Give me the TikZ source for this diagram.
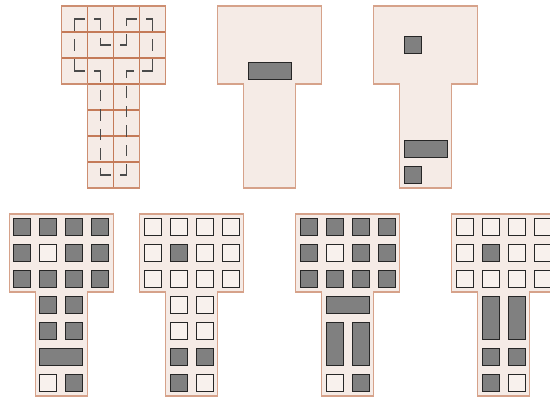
\documentclass[tikz,border=0pt]{standalone}
\usepackage{tikz}
\definecolor{teefill}{RGB}{245,235,230}
\definecolor{teeline}{RGB}{196,122,88}
\definecolor{blockgray}{RGB}{128,128,128}
\definecolor{routegray}{RGB}{75,75,75}
\tikzset{
  tee/.style={fill=teefill,draw=teeline!70!white,line width=1.2pt},
  gridln/.style={draw=teeline,line width=1.1pt},
  full/.style={fill=blockgray,draw=black!85,line width=1pt},
  empty/.style={fill=teefill!70!white,draw=black!85,line width=1pt},
  route/.style={draw=routegray,line width=1.2pt,line cap=rect,dash pattern=on 10pt off 9.5pt},
  routelong/.style={route,dash pattern=on 11pt off 9.5pt}
}
% T outline, one unit per cell, rows counted downwards
\newcommand{\teeshape}{\draw[tee] (0,0) -- (4,0) -- (4,3) -- (3,3) -- (3,7) -- (1,7) -- (1,3) -- (0,3) -- cycle;}
% square block in cell (col,row)
\newcommand{\cellsq}[3]{\draw[#1] (#2+0.17,#3+0.17) rectangle (#2+0.83,#3+0.83);}
% three upper rows: #1 for all cells, #2 for cell (1,1)
\newcommand{\toprows}[2]{%
  \foreach \r in {0,1,2} \foreach \c in {0,2,3} {\cellsq{#1}{\c}{\r}}
  \foreach \r in {0,2} {\cellsq{#1}{1}{\r}}
  \cellsq{#2}{1}{1}}
\begin{document}
\begin{tikzpicture}[x=26pt,y=-26pt]
\useasboundingbox (0,0) rectangle (21.154,15.346);

% grid with route
\begin{scope}[shift={(2.38,0.23)}]
\teeshape
\draw[gridln] (0,1) -- (4,1) (0,2) -- (4,2) (1,3) -- (3,3)
  (1,4) -- (3,4) (1,5) -- (3,5) (1,6) -- (3,6)
  (1,0) -- (1,3) (2,0) -- (2,7) (3,0) -- (3,3);
\draw[gridln,draw=teeline!85!white] (0,0) -- (4,0) -- (4,3) -- (3,3) -- (3,7) -- (1,7) -- (1,3) -- (0,3) -- cycle;
\draw[route] (0.5,0.5) -- (1.5,0.5);
\draw[route] (1.5,0.5) -- (1.5,1.5);
\draw[route] (1.5,1.5) -- (2.5,1.5);
\draw[route] (2.5,1.5) -- (2.5,0.5);
\draw[route] (2.5,0.5) -- (3.5,0.5);
\draw[routelong] (3.5,0.5) -- (3.5,2.5);
\draw[route] (3.5,2.5) -- (2.5,2.5);
\draw[route] (2.5,6.5) -- (2.5,2.5);
\draw[route] (1.5,6.5) -- (2.5,6.5);
\draw[route] (1.5,2.5) -- (1.5,6.5);
\draw[route] (0.5,2.5) -- (1.5,2.5);
\draw[routelong] (0.5,0.5) -- (0.5,2.5);
\end{scope}

\begin{scope}[shift={(8.38,0.23)}]
\teeshape
\draw[full] (1.17,2.17) rectangle (2.83,2.83);
\end{scope}

\begin{scope}[shift={(14.38,0.23)}]
\teeshape
\cellsq{full}{1}{1}
\draw[full] (1.17,5.17) rectangle (2.83,5.83);
\cellsq{full}{1}{6}
\end{scope}

% lower row
\begin{scope}[shift={(0.35,8.23)}]
\teeshape
\toprows{full}{empty}
\foreach \r in {3,4} {\cellsq{full}{1}{\r} \cellsq{full}{2}{\r}}
\draw[full] (1.17,5.17) rectangle (2.83,5.83);
\cellsq{empty}{1}{6} \cellsq{full}{2}{6}
\end{scope}

\begin{scope}[shift={(5.37,8.23)}]
\teeshape
\toprows{empty}{full}
\foreach \r in {3,4} {\cellsq{empty}{1}{\r} \cellsq{empty}{2}{\r}}
\cellsq{full}{1}{5} \cellsq{full}{2}{5}
\cellsq{full}{1}{6} \cellsq{empty}{2}{6}
\end{scope}

\begin{scope}[shift={(11.38,8.23)}]
\teeshape
\toprows{full}{empty}
\draw[full] (1.17,3.17) rectangle (2.83,3.83);
\foreach \c in {1,2} {\draw[full] (\c+0.17,4.17) rectangle (\c+0.83,5.83);}
\cellsq{empty}{1}{6} \cellsq{full}{2}{6}
\end{scope}

\begin{scope}[shift={(17.38,8.23)}]
\teeshape
\toprows{empty}{full}
\foreach \c in {1,2} {\draw[full] (\c+0.17,3.17) rectangle (\c+0.83,4.83);}
\cellsq{full}{1}{5} \cellsq{full}{2}{5}
\cellsq{full}{1}{6} \cellsq{empty}{2}{6}
\end{scope}
\end{tikzpicture}
\end{document}
